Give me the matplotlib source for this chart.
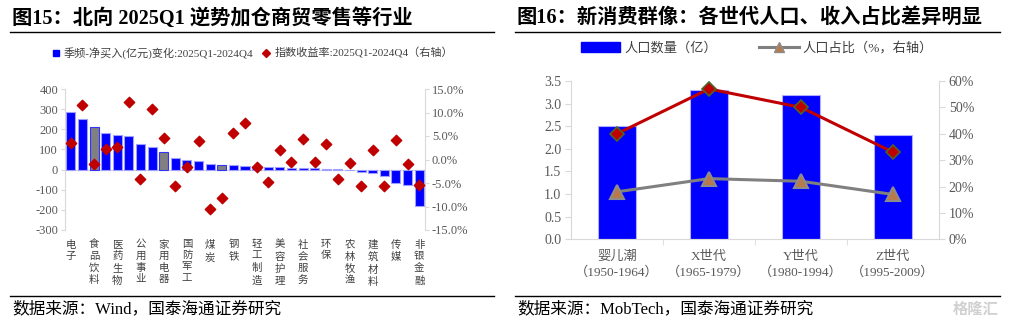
import matplotlib
matplotlib.use("Agg")
import matplotlib.pyplot as plt
from matplotlib.lines import Line2D
from matplotlib.patches import Patch
from matplotlib.ticker import FuncFormatter, MultipleLocator

plt.rcParams['font.family'] = ['Liberation Serif', 'Noto Sans CJK SC', 'DejaVu Sans']
plt.rcParams['axes.unicode_minus'] = False

# ---- data: left chart (图15) ----
industries = ['电子', '商贸零售', '食品饮料', '有色金属', '医药生物', '计算机', '公用事业', '汽车',
              '家用电器', '通信', '国防军工', '机械设备', '煤炭', '基础化工', '钢铁', '交通运输',
              '轻工制造', '纺织服饰', '美容护理', '房地产', '社会服务', '综合', '环保', '建筑装饰',
              '农林牧渔', '石油石化', '建筑材料', '电力设备', '传媒', '银行', '非银金融']
net_buy = [287, 249, 212, 182, 171, 166, 129, 112, 85, 58, 46, 43, 30, 25, 25, 16,
           15, 13, 12, 10, 9, 6, 4, 2, -4, -12, -17, -33, -65, -78, -181]
index_ret = [3.5, 11.5, -1.0, 2.2, 2.6, 12.2, -4.2, 10.7, 4.5, -5.7, -1.7, 4.0, -10.5, -8.1,
             5.7, 7.7, -1.6, -4.7, 2.0, -0.6, 4.4, -0.6, 3.3, -4.2, -0.8, -5.7, 2.0, -5.7,
             4.2, -1.0, -5.5]
gray_bars = [2, 8, 13]

# ---- data: right chart (图16) ----
generations = ['婴儿潮\n（1950-1964）', 'X世代\n（1965-1979）', 'Y世代\n（1980-1994）', 'Z世代\n（1995-2009）']
population = [2.5, 3.3, 3.2, 2.3]
pop_share = [18, 23, 22, 17]
income_share = [40, 57, 50, 33]

W, H = 1011, 326
fig = plt.figure(figsize=(W / 100, H / 100), dpi=100)


def rect(x0, y0, x1, y1):
    return [x0 / W, 1 - y1 / H, (x1 - x0) / W, (y1 - y0) / H]


def hline(x0, x1, y, lw=1.0):
    fig.add_artist(Line2D([x0 / W, x1 / W], [1 - y / H, 1 - y / H], color='black', lw=lw))


tick_col = '#595959'
spine_col = '#d9d9d9'

# titles, rules and sources
fig.text(12 / W, 1 - 19 / H, '图15：北向 2025Q1 逆势加仓商贸零售等行业', fontsize=14.6,
         fontweight='bold', va='center')
fig.text(517 / W, 1 - 19 / H, '图16：新消费群像：各世代人口、收入占比差异明显', fontsize=14.6,
         fontweight='bold', va='center')
hline(10, 494, 32)
hline(515, 1000, 32)
hline(10, 494, 296)
hline(515, 1000, 296)
fig.text(12 / W, 1 - 309 / H, '数据来源：Wind，国泰海通证券研究', fontsize=12, va='center')
fig.text(517 / W, 1 - 309 / H, '数据来源：MobTech，国泰海通证券研究', fontsize=12, va='center')
fig.text(998 / W, 1 - 310 / H, '格隆汇', fontsize=11, va='center', ha='right', color='#d0d0d0',
         fontweight='bold')

# ---- left chart ----
ax = fig.add_axes(rect(65, 89, 425, 230))
x = list(range(len(industries)))
colors = ['#808080' if i in gray_bars else '#0000ff' for i in x]
edges = ['#3333ff' if i in gray_bars else '#9f9fff' for i in x]
ax.bar(x, net_buy, width=0.78, color=colors, edgecolor=edges, linewidth=0.8, zorder=2)
ax.axhline(0, color=spine_col, lw=0.8, zorder=1)
ax.set_xlim(-0.5, len(industries) - 0.5)
ax.set_ylim(-300, 400)
ax.yaxis.set_major_locator(MultipleLocator(100))
ax.set_xticks(x[::2])
ax.set_xticklabels(['\n'.join(s) for s in industries[::2]], fontsize=7.5, va='top',
                   linespacing=1.3, color='#404040')
ax.tick_params(axis='x', length=0, pad=7)
ax.tick_params(axis='y', labelsize=9, colors=spine_col, labelcolor=tick_col, length=3, pad=2)
for s in ['top', 'bottom', 'right']:
    ax.spines[s].set_visible(False)
ax.spines['left'].set_color(spine_col)

ax2 = ax.twinx()
ax2.scatter(x, index_ret, marker='D', s=28, color='#c00000', zorder=3)
ax2.set_ylim(-15, 15)
ax2.yaxis.set_major_locator(MultipleLocator(5))
ax2.yaxis.set_major_formatter(FuncFormatter(lambda v, p: f'{v:.1f}%'))
ax2.tick_params(axis='y', labelsize=9, colors=spine_col, labelcolor=tick_col, length=3, pad=2)
for s in ['top', 'bottom', 'left']:
    ax2.spines[s].set_visible(False)
ax2.spines['right'].set_color(spine_col)

h1 = Line2D([], [], marker='s', ls='none', color='#0000ff', markersize=5)
h2 = Line2D([], [], marker='D', ls='none', color='#c00000', markersize=4)
fig.legend([h1, h2], ['季频-净买入(亿元)变化:2025Q1-2024Q4', '指数收益率:2025Q1-2024Q4（右轴）'],
           loc='center', bbox_to_anchor=(252 / W, 1 - 53 / H), ncol=2, frameon=False,
           fontsize=8, handlelength=0.8, handletextpad=0.3, columnspacing=0.8,
           labelcolor='#404040')

# ---- right chart ----
bx = fig.add_axes(rect(571, 81, 939, 239.3))
gx = list(range(len(generations)))
bx.bar(gx, population, width=0.41, color='#0000ff', edgecolor='#b0b0ff', linewidth=0.8, zorder=2)
bx.set_xlim(-0.5, len(generations) - 0.5)
bx.set_ylim(0, 3.5)
bx.yaxis.set_major_locator(MultipleLocator(0.5))
bx.yaxis.set_major_formatter(FuncFormatter(lambda v, p: f'{v:.1f}'))
bx.set_xticks(gx)
bx.set_xticklabels(generations, fontsize=9.5, color=tick_col, linespacing=1.4)
bx.set_xticks([i + 0.5 for i in gx[:-1]], minor=True)
bx.tick_params(axis='x', which='major', length=0, pad=8)
bx.tick_params(axis='x', which='minor', length=4, color=spine_col)
bx.tick_params(axis='y', labelsize=10, colors=spine_col, labelcolor=tick_col, length=4, pad=3)
for s in ['top', 'right']:
    bx.spines[s].set_visible(False)
bx.spines['left'].set_color(spine_col)
bx.spines['bottom'].set_color(spine_col)

bx2 = bx.twinx()
bx2.plot(gx, income_share, color='#c00000', lw=2.2, marker='D', markersize=7,
         markerfacecolor='#c00000', markeredgecolor='#4f6228', markeredgewidth=1.2, zorder=3)
bx2.plot(gx, pop_share, color='#808080', lw=2.2, marker='^', markersize=10,
         markerfacecolor='#b87a4b', markeredgecolor='#8c8c8c', markeredgewidth=1.5, zorder=3)
bx2.set_ylim(0, 60)
bx2.yaxis.set_major_locator(MultipleLocator(10))
bx2.yaxis.set_major_formatter(FuncFormatter(lambda v, p: f'{v:.0f}%'))
bx2.tick_params(axis='y', labelsize=10, colors=spine_col, labelcolor=tick_col, length=4, pad=3)
for s in ['top', 'left', 'bottom']:
    bx2.spines[s].set_visible(False)
bx2.spines['right'].set_color(spine_col)

p1 = Patch(facecolor='#0000ff', edgecolor='#0000ff')
p2 = Line2D([], [], color='#808080', lw=2.2, marker='^', markersize=7,
            markerfacecolor='#b87a4b', markeredgecolor='#8c8c8c')
fig.legend([p1, p2], ['人口数量（亿）', '人口占比（%，右轴）'], loc='center',
           bbox_to_anchor=(757 / W, 1 - 48 / H), ncol=2, frameon=False, fontsize=9.5,
           handlelength=3.0, handleheight=0.8, handletextpad=0.3, columnspacing=3.2,
           labelcolor='#404040')

fig.savefig('out.png', dpi=100)
